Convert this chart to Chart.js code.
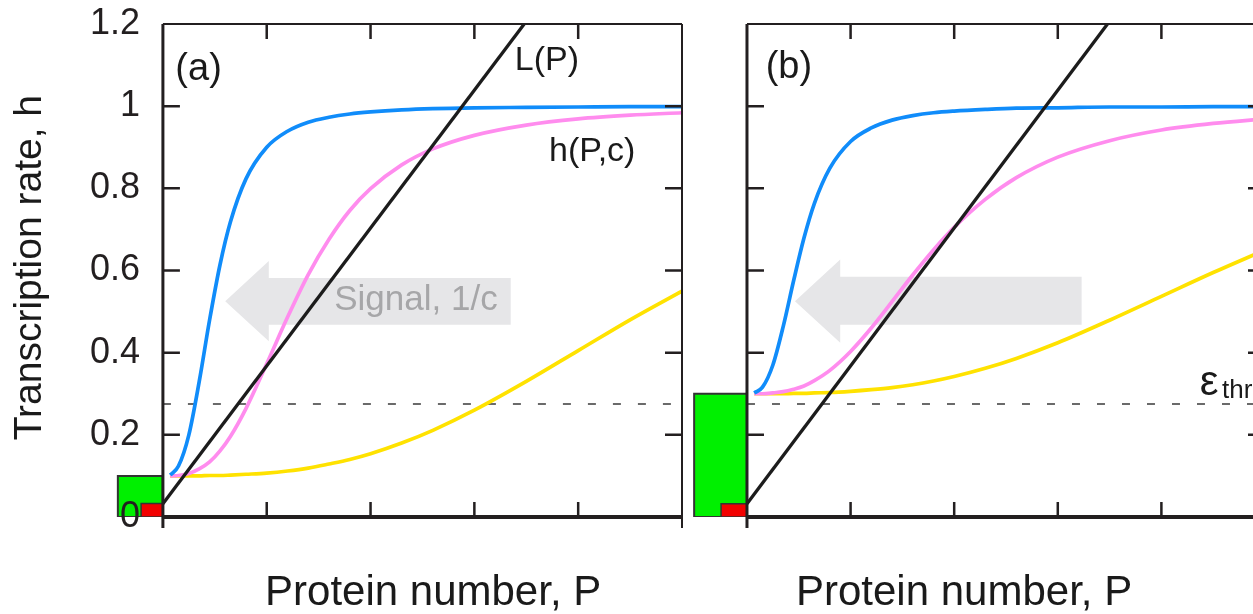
<!DOCTYPE html>
<html>
<head>
<meta charset="utf-8">
<script src="https://cdn.jsdelivr.net/npm/chart.js@4.4.1/dist/chart.umd.min.js"></script>
<style>
  html, body { margin: 0; padding: 0; width: 1253px; height: 614px; overflow: hidden; background: #fff; }
  canvas { position: absolute; top: 0; }
  #panelA { left: 0; }
  #panelB { left: 640px; }
</style>
</head>
<body>
<canvas id="panelA" width="700" height="614"></canvas>
<canvas id="panelB" width="640" height="614"></canvas>
<script>
// protein number samples shared by all response curves
var P = [0.07, 0.15, 0.25, 0.35, 0.45, 0.55, 0.65, 0.8, 1.0, 1.2, 1.4, 1.6, 1.8, 2.0, 2.3, 2.6, 3.0, 3.5, 4.0, 4.5, 5.0];

// (a) transcription rate h(P,c), basal level 0.1
var hBlueA   = [0.102, 0.124, 0.200, 0.330, 0.480, 0.614, 0.718, 0.823, 0.900, 0.939, 0.961, 0.973, 0.981, 0.986, 0.991, 0.994, 0.996, 0.997, 0.998, 0.999, 0.999];
var hPinkA   = [0.100, 0.101, 0.106, 0.117, 0.134, 0.161, 0.196, 0.264, 0.373, 0.486, 0.590, 0.676, 0.746, 0.799, 0.857, 0.896, 0.929, 0.954, 0.969, 0.978, 0.984];
var hYellowA = [0.100, 0.100, 0.100, 0.100, 0.101, 0.101, 0.102, 0.104, 0.107, 0.112, 0.119, 0.129, 0.140, 0.154, 0.180, 0.211, 0.260, 0.330, 0.405, 0.480, 0.550];

// (b) same curves with basal level 0.3
var hBlueB   = [0.302, 0.316, 0.370, 0.464, 0.575, 0.679, 0.763, 0.849, 0.914, 0.947, 0.966, 0.977, 0.984, 0.988, 0.992, 0.995, 0.996, 0.998, 0.998, 0.999, 0.999];
var hPinkB   = [0.300, 0.300, 0.302, 0.305, 0.311, 0.319, 0.332, 0.357, 0.403, 0.460, 0.524, 0.589, 0.650, 0.705, 0.773, 0.826, 0.876, 0.916, 0.942, 0.958, 0.969];
var hYellowB = [0.300, 0.300, 0.300, 0.300, 0.301, 0.301, 0.302, 0.303, 0.306, 0.310, 0.315, 0.322, 0.331, 0.342, 0.362, 0.386, 0.424, 0.479, 0.537, 0.595, 0.650];

// loss line L(P)
var lineP = [0, 3.48];
var lineL = [0.032, 1.2];

// threshold epsilon_thr
var epsThr = 0.275;

// basal (green) and leak (red) levels, drawn left of P = 0
var basalA = { from: -0.434, level: 0.1 };
var leakA  = { from: -0.21, level: 0.033 };
var basalB = { from: -0.51, level: 0.3 };
var leakB  = { from: -0.25, level: 0.032 };

// axis ticks
var yTicks = [0, 0.2, 0.4, 0.6, 0.8, 1.0, 1.2];
var yTickLabels = ['0', '0.2', '0.4', '0.6', '0.8', '1', '1.2'];
var xTicks = [1, 2, 3, 4];

// signal arrows: tip x, head base x, right end x, tip y, head top/bottom, body top/bottom
var arrowA = { tip: 0.6, base: 1.02, end: 3.35, y: 0.525, headTop: 0.623, headBottom: 0.428, bodyTop: 0.582, bodyBottom: 0.468 };
var arrowB = { tip: 0.463, base: 0.9, end: 3.23, y: 0.525, headTop: 0.627, headBottom: 0.424, bodyTop: 0.585, bodyBottom: 0.468 };

var fontFamily = "'Liberation Sans', Arial, sans-serif";
Chart.defaults.font.family = fontFamily;

var INK = '#231f20';

function pts(xs, ys) {
    return xs.map(function(x, i) { return { x: x, y: ys[i] }; });
}

function box(b) {
    return [
        { x: b.from, y: 0 }, { x: b.from, y: b.level },
        { x: 0, y: b.level }, { x: 0, y: 0 }, { x: b.from, y: 0 }
    ];
}

function arrow(a) {
    return [
        { x: a.tip, y: a.y }, { x: a.base, y: a.headTop }, { x: a.base, y: a.bodyTop },
        { x: a.end, y: a.bodyTop }, { x: a.end, y: a.bodyBottom }, { x: a.base, y: a.bodyBottom },
        { x: a.base, y: a.headBottom }, { x: a.tip, y: a.y }
    ];
}

function curve(data, color, order) {
    return {
        data: data, showLine: true, borderColor: color, borderWidth: 3.7,
        pointRadius: 0, cubicInterpolationMode: 'monotone', order: order
    };
}

function datasets(blue, pink, yellow, basal, leak, arr) {
    return [
        { data: arrow(arr), showLine: true, fill: 'shape', backgroundColor: '#e6e6e8',
          borderWidth: 0, pointRadius: 0, order: 9 },
        { data: [{ x: 0, y: epsThr }, { x: 5, y: epsThr }], showLine: true, borderColor: '#3a3a3a',
          borderWidth: 1.5, borderDash: [8, 17], pointRadius: 0, order: 8 },
        curve(pts(P, yellow), 'rgb(255,226,0)', 6),
        curve(pts(P, pink), 'rgb(255,140,238)', 5),
        curve(pts(P, blue), 'rgb(16,140,250)', 4),
        { data: pts(lineP, lineL), showLine: true, borderColor: '#1c1c1c', borderWidth: 3.3,
          pointRadius: 0, order: 3 },
        { data: box(basal), showLine: true, fill: 'shape', backgroundColor: '#00f000',
          borderColor: '#333', borderWidth: 2, pointRadius: 0, order: 2 },
        { data: box(leak), showLine: true, fill: 'shape', backgroundColor: '#f20000',
          borderColor: '#333', borderWidth: 1.5, pointRadius: 0, order: 1 }
    ];
}

// box frame with inward ticks on all four sides
var framePlugin = {
    id: 'frame',
    afterDatasetsDraw: function(chart) {
        var ctx = chart.ctx, x = chart.scales.x, y = chart.scales.y;
        var left = x.getPixelForValue(0), right = x.getPixelForValue(5);
        var top = y.getPixelForValue(1.2), bottom = y.getPixelForValue(0);
        ctx.save();
        ctx.strokeStyle = INK;
        ctx.lineWidth = 2.5;
        ctx.beginPath();
        xTicks.forEach(function(v) {
            var px = x.getPixelForValue(v);
            ctx.moveTo(px, bottom); ctx.lineTo(px, bottom - 15);
            ctx.moveTo(px, top); ctx.lineTo(px, top + 15);
        });
        yTicks.slice(1, -1).forEach(function(v) {
            var py = y.getPixelForValue(v);
            ctx.moveTo(left, py); ctx.lineTo(left + 17, py);
            ctx.moveTo(right, py); ctx.lineTo(right - 17, py);
        });
        ctx.stroke();

        ctx.lineWidth = 3;
        ctx.beginPath(); ctx.moveTo(left, top); ctx.lineTo(left, bottom + 11); ctx.stroke();
        ctx.lineWidth = 2;
        ctx.beginPath(); ctx.moveTo(right, top); ctx.lineTo(right, bottom + 11); ctx.stroke();
        ctx.beginPath(); ctx.moveTo(left, top); ctx.lineTo(right, top); ctx.stroke();
        ctx.lineWidth = 4;
        ctx.beginPath(); ctx.moveTo(left - 1, bottom); ctx.lineTo(right + 1, bottom); ctx.stroke();
        ctx.restore();
    }
};

// panel letters, curve names and axis titles
var textPlugin = {
    id: 'panelText',
    afterDraw: function(chart, args, opts) {
        var ctx = chart.ctx, x = chart.scales.x, y = chart.scales.y;
        ctx.save();
        opts.items.forEach(function(t) {
            var px = x.getPixelForValue(t.x), py = y.getPixelForValue(t.y);
            ctx.font = t.size + 'px ' + fontFamily;
            ctx.fillStyle = t.color || '#1a1a1a';
            ctx.textAlign = t.align || 'left';
            ctx.textBaseline = t.baseline || 'middle';
            if (t.rotate) {
                ctx.save();
                ctx.translate(px, py);
                ctx.rotate(-Math.PI / 2);
                ctx.fillText(t.text, 0, 0);
                ctx.restore();
            } else {
                ctx.fillText(t.text, px, py);
            }
        });
        ctx.restore();
    }
};

var textA = [
    { text: '(a)', x: 0.12, y: 1.09, size: 38 },
    { text: 'L(P)', x: 3.39, y: 1.112, size: 34 },
    { text: 'h(P,c)', x: 3.72, y: 0.89, size: 34 },
    { text: 'Signal, 1/c', x: 1.65, y: 0.527, size: 35, color: '#a6a6a8' },
    { text: 'Protein number, P', x: 0.984, y: -0.185, size: 42 },
    { text: 'Transcription rate, h', x: -1.28, y: 0.607, size: 39, align: 'center', rotate: true }
];

var textB = [
    { text: '(b)', x: 0.18, y: 1.095, size: 38 },
    { text: 'ε', x: 4.37, y: 0.298, size: 42, baseline: 'alphabetic' },
    { text: 'thr', x: 4.585, y: 0.29, size: 26, baseline: 'alphabetic' },
    { text: 'Protein number, P', x: 0.473, y: -0.185, size: 42 }
];

var common = {
    responsive: false,
    animation: false,
    events: [],
    plugins: { legend: { display: false }, tooltip: { enabled: false } }
};

new Chart(document.getElementById('panelA'), {
    type: 'scatter',
    data: { datasets: datasets(hBlueA, hPinkA, hYellowA, basalA, leakA, arrowA) },
    options: Object.assign({}, common, {
        layout: { autoPadding: false, padding: { left: 111, right: 18, top: 24, bottom: 97 } },
        plugins: Object.assign({}, common.plugins, { panelText: { items: textA } }),
        scales: {
            x: { type: 'linear', min: -0.5, max: 5, display: false },
            y: {
                type: 'linear', min: 0, max: 1.2,
                // labels are right-aligned a little left of the P = 0 axis line
                position: { x: -0.22 },
                grid: { display: false, drawTicks: false },
                border: { display: false },
                ticks: {
                    stepSize: 0.2, padding: 0, z: 1, color: INK,
                    font: { size: 36 },
                    callback: function(v) {
                        return yTickLabels[yTicks.indexOf(Math.round(v * 10) / 10)];
                    }
                }
            }
        }
    }),
    plugins: [framePlugin, textPlugin]
});

new Chart(document.getElementById('panelB'), {
    type: 'scatter',
    data: { datasets: datasets(hBlueB, hPinkB, hYellowB, basalB, leakB, arrowB) },
    options: Object.assign({}, common, {
        layout: { autoPadding: false, padding: { left: 50, right: 15, top: 24, bottom: 97 } },
        plugins: Object.assign({}, common.plugins, { panelText: { items: textB } }),
        scales: {
            x: { type: 'linear', min: -0.55, max: 5, display: false },
            y: { type: 'linear', min: 0, max: 1.2, display: false }
        }
    }),
    plugins: [framePlugin, textPlugin]
});
</script>
</body>
</html>
